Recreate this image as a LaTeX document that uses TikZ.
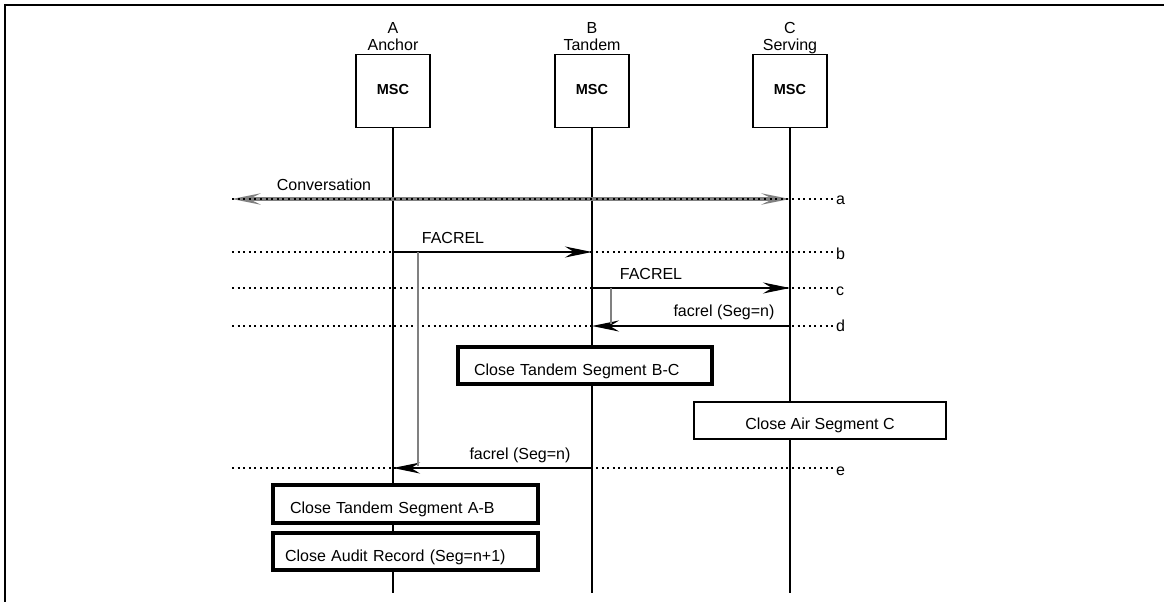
\documentclass[tikz,border=0pt]{standalone}
\usepackage{fontspec}
\setmainfont{Liberation Sans}
\usetikzlibrary{arrows.meta}
\begin{document}
\begin{tikzpicture}[x=1pt,y=-1pt,
  txt/.style={font=\fontsize{16}{19}\selectfont, inner sep=0pt},
  msc/.style={draw, line width=1.5pt, fill=white, minimum width=74pt, minimum height=73pt,
    inner sep=0pt, text height=6pt, text depth=0pt, font=\fontsize{14.5}{17}\selectfont\bfseries},
  life/.style={line width=1.3pt},
  dots/.style={line width=1.5pt, dash pattern=on 2pt off 3.6pt},
  msg/.style={line width=2pt, -{Stealth[length=27pt,width=11pt,inset=9pt]}},
  conv/.style={line width=4pt, draw=black!50, {Stealth[length=28pt,width=11pt,inset=11pt]}-{Stealth[length=28pt,width=11pt,inset=11pt]}},
  grayline/.style={line width=1.6pt, draw=black!50},
  border/.style={line width=2.2pt},
  thickbox/.style={draw, line width=3.2pt, fill=white, inner xsep=0pt, inner ysep=0pt,
    text height=19.5pt, text depth=0pt, font=\fontsize{16}{19}\selectfont},
  thinbox/.style={draw, line width=1.4pt, fill=white, inner xsep=0pt, inner ysep=0pt,
    text height=17pt, text depth=0pt, font=\fontsize{16}{19}\selectfont},
  endlab/.style={txt, anchor=base west}
]
\useasboundingbox (0,0) rectangle (1164,602);
% frame
\draw[border] (4,5) -- (1164,5);
\draw[border] (5,4) -- (5,602);

% heads
\node[txt, anchor=base] (Alab) at (393,33.5) {A};
\node[txt, anchor=base] (Aname) at (393,51) {Anchor};
\node[txt, anchor=base] (Blab) at (592,33.5) {B};
\node[txt, anchor=base] (Bname) at (592,51) {Tandem};
\node[txt, anchor=base] (Clab) at (790,33.5) {C};
\node[txt, anchor=base] (Cname) at (790,51) {Serving};
\node[msc] (A) at (393,91) {MSC};
\node[msc] (B) at (592,91) {MSC};
\node[msc] (C) at (790,91) {MSC};

% lifelines
\coordinate (Aend) at (393,593);
\coordinate (Bend) at (592,593);
\coordinate (Cend) at (790,593);
\draw[life] (A.south) -- (Aend);
\draw[life] (B.south) -- (Bend);
\draw[life] (C.south) -- (Cend);

% level coordinates
\coordinate (La) at (232,199); \coordinate (Ra) at (834,199); \coordinate (Ca) at (790,199);
\coordinate (Lb) at (232,252); \coordinate (Rb) at (834,252); \coordinate (Ab) at (393,252); \coordinate (Bb) at (592,252);
\coordinate (Lc) at (232,288); \coordinate (Rc) at (834,288); \coordinate (Bc) at (592,288); \coordinate (Cc) at (790,288);
\coordinate (Ld) at (232,326); \coordinate (Rd) at (834,326); \coordinate (Bd) at (592,326); \coordinate (Cd) at (790,326);
\coordinate (Le) at (232,468); \coordinate (Re) at (834,468); \coordinate (Ae) at (393,468); \coordinate (Be) at (592,468);

% conversation
\draw[conv] (La) -- (Ca);
\draw[dots] (La) -- (Ra);
\node[txt, anchor=base] (convlab) at (324,190) {Conversation};
\node[endlab] (la) at (836,204) {a};

% b
\draw[dots] (Lb) -- (Rb);
\draw[msg] (Ab) -- (Bb);
\node[txt, anchor=base] (blab) at (453,243) {FACREL};
\node[endlab] (lb) at (836,259) {b};

% c
\draw[dots] (Lc) -- (Rc);
\draw[msg] (Bc) -- (Cc);
\node[txt, anchor=base] (clab) at (651,279) {FACREL};
\node[endlab] (lc) at (836,295) {c};

% d
\draw[dots] (Ld) -- (Rd);
\draw[msg] (Cd) -- (Bd);
\node[txt, anchor=base] (dlab) at (724,316) {facrel (Seg=n)};
\node[endlab] (ld) at (836,331) {d};

% e
\draw[dots] (Le) -- (Re);
\draw[msg] (Be) -- (Ae);
\node[txt, anchor=base] (elab) at (520,459) {facrel (Seg=n)};
\node[endlab] (le) at (836,475) {e};

% timer lines
\coordinate (Ag1) at (418,252); \coordinate (Ag2) at (418,466);
\coordinate (Bg1) at (611,288); \coordinate (Bg2) at (611,324);
\draw[grayline] (Ag1) -- (Ag2);
\draw[grayline] (Bg1) -- (Bg2);

% action boxes
\node[thickbox, minimum width=254pt, minimum height=37pt, text width=222pt, align=left] (BC) at (585,365.5) {Close Tandem Segment B-C};
\node[thinbox, minimum width=252pt, minimum height=37pt] (AirC) at (820,420.5) {Close Air Segment C};
\node[thickbox, minimum width=265pt, minimum height=38pt, text width=231pt, align=left] (AB) at (405.5,504) {Close Tandem Segment A-B};
\node[thickbox, minimum width=265pt, minimum height=37pt, text width=241pt, align=left] (Audit) at (405.5,551.5) {Close Audit Record (Seg=n+1)};
\end{tikzpicture}
\end{document}
